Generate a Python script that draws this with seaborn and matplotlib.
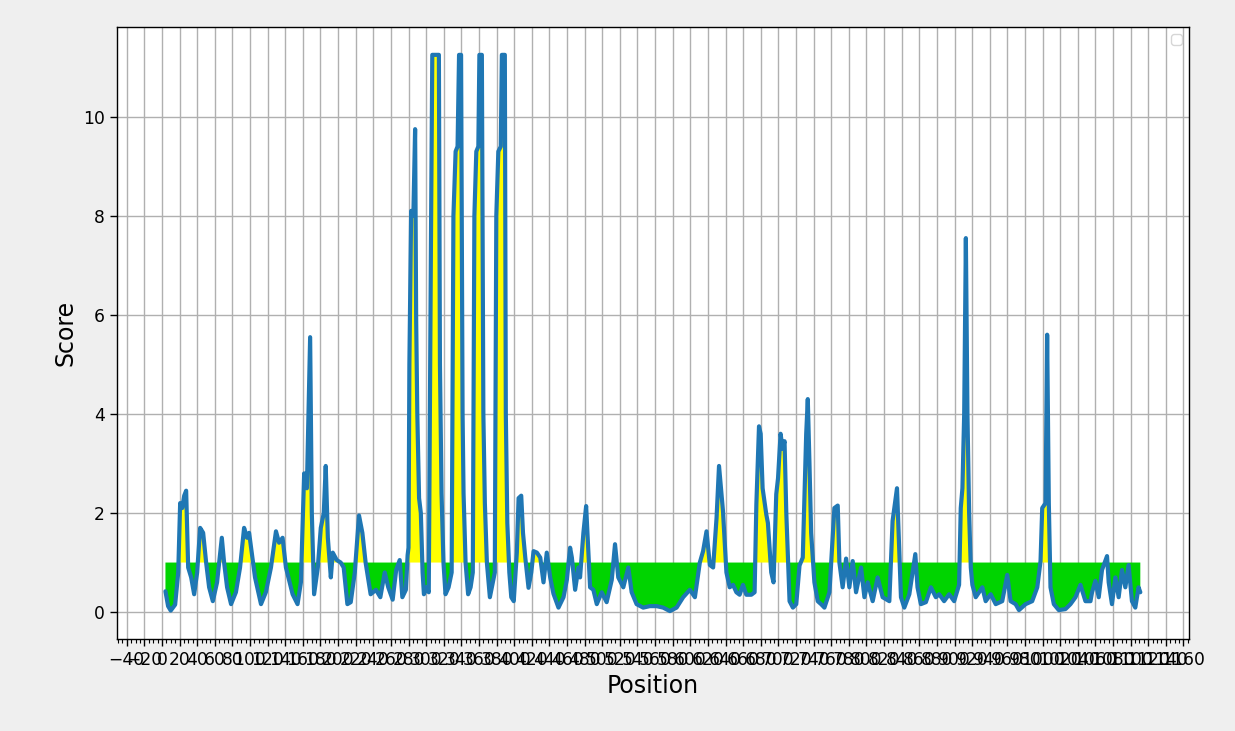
import matplotlib
matplotlib.use("Agg")
import matplotlib.pyplot as plt
from matplotlib.ticker import MultipleLocator
import seaborn as sns
import numpy as np
import pandas as pd

# ---- data ----
positions = [
    4, 7, 10, 15, 18.5, 20.7, 23, 25.3, 27.5, 29.8, 33.2, 36.6, 40, 43.4, 46.8, 50.2,
    53.6, 57.8, 62.6, 68, 70.6, 74, 78.5, 84, 88.7, 93.3, 96.7, 99, 102, 105.7, 112.5,
    118, 123.8, 129.5, 133, 137, 140.8, 148.4, 154, 157.8, 161.5, 164.6, 168.3, 170.2,
    172.8, 177, 180.4, 183.8, 186, 188.4, 191.8, 194, 198.5, 203, 206.4, 210.6, 214.4,
    219, 223.8, 227.6, 231.3, 237, 243, 248, 253, 257, 262, 266, 270, 273, 277, 279, 280,
    281, 283, 285.5, 287.5, 288.7, 290, 292, 294, 296, 297.5, 300.5,
    303, 305.5, 307, 310.5, 314.5, 315.7, 317.5, 319.7, 322, 325.5,
    329, 331, 333.5, 335.7, 337.4, 339.7, 341.4, 342.5, 344.8, 347.7, 350.5,
    353, 354.8, 357, 359.3, 360.5, 363.3, 365, 366.7, 369, 372.4, 374.6,
    378, 379.7, 382, 384.8, 386, 389.4, 390.5, 392.2, 394.5, 396.7, 399.5,
    403, 405, 408, 410, 412.6, 416.3, 419.4, 422, 425.8, 429.6, 433.3, 437, 440.9, 444.6,
    450.3, 456, 459.8, 463.5, 465.5, 469.2, 473, 474.8, 478.6, 481.7, 484.3, 486.2, 489.9,
    493.8, 499.4, 505, 510.8, 514.5, 518.2, 523.9, 529.6, 533.4, 539, 546.5, 554, 561.7,
    569.2, 576.8, 584.4, 591.9, 599.5, 605.2, 610.8, 614.5, 618.4, 622.2, 625.9, 629.8,
    632.6, 635.3, 637.1, 641, 644.7, 648.5, 652.3, 656, 659.8, 663.6, 669.3, 673, 675,
    678, 679.9, 682.1, 686.3, 688.1, 691.9, 694.5, 697.6, 699.6, 702.5, 704.8, 707, 709,
    712.7, 716.5, 720.3, 724, 727.7, 731.6, 733.4, 735.3, 737.2, 740.9, 744.7, 748.5,
    752.3, 758, 761.7, 763.6, 767.4, 769.3, 773, 776.9, 780.6, 784.4, 788.2, 793.9, 797.7,
    801.4, 807.1, 812.7, 818.4, 826, 829.7, 834.7, 837.3, 839.2, 843, 848.7, 855.5, 858,
    861.8, 867.5, 873.2, 878.8, 882.6, 888.2, 893.9, 899.6, 905.2, 907.1, 909, 911, 912.9,
    914.7, 916.6, 918.5, 920.3, 924.1, 931.6, 935.4, 941.1, 946.8, 954.2, 959.9, 963.7,
    969.4, 973.2, 980.7, 988.2, 994, 997.7, 999.6, 1003.4, 1005.2, 1007.1, 1009, 1012.8,
    1018.4, 1026, 1031.7, 1037.4, 1043, 1048.7, 1054.4, 1056.2, 1060, 1063.8, 1067.5,
    1073.2, 1075.1, 1078.8, 1082.7, 1086.4, 1090.2, 1094, 1097.7, 1101.5, 1105.3, 1109, 1111,
]
scores = [
    0.42, 0.12, 0.03, 0.15, 0.8, 2.2, 2.1, 2.35, 2.45, 0.9, 0.7, 0.36, 0.8, 1.7, 1.6, 1.0,
    0.5, 0.22, 0.6, 1.5, 1.0, 0.5, 0.16, 0.4, 0.9, 1.7, 1.5, 1.6, 1.2, 0.7, 0.16,
    0.4, 0.9, 1.63, 1.4, 1.5, 0.9, 0.36, 0.16, 0.6, 2.8, 2.5, 5.55, 2.0,
    0.36, 0.9, 1.7, 2.0, 2.95, 1.5, 0.7, 1.2, 1.05, 1.0, 0.9, 0.16, 0.2,
    0.8, 1.95, 1.6, 1.0, 0.36, 0.45, 0.3, 0.8, 0.5, 0.25, 0.85, 1.05, 0.3, 0.45, 1.15, 1.3,
    5.0, 8.1, 8.0, 9.75, 5.9, 4.0, 2.3, 2.0, 0.8, 0.36, 0.5,
    0.4, 7.5, 11.25, 11.25, 11.25, 5.0, 2.4, 1.0, 0.36, 0.5,
    0.8, 8.0, 9.3, 9.4, 11.25, 11.25, 4.0, 2.4, 1.0, 0.36, 0.5,
    0.8, 8.0, 9.3, 9.4, 11.25, 11.25, 4.0, 2.2, 1.0, 0.3, 0.5,
    0.8, 8.0, 9.3, 9.4, 11.25, 11.25, 4.0, 1.8, 0.8, 0.3, 0.22,
    1.2, 2.3, 2.35, 1.6, 1.1, 0.49, 0.8, 1.23, 1.2, 1.1, 0.6, 1.2, 0.7, 0.37,
    0.09, 0.3, 0.65, 1.3, 1.1, 0.45, 0.9, 0.7, 1.6, 2.14, 1.2, 0.5, 0.45,
    0.16, 0.4, 0.2, 0.65, 1.37, 0.7, 0.5, 0.9, 0.4, 0.16, 0.09, 0.12, 0.12,
    0.09, 0.02, 0.09, 0.3, 0.45, 0.3, 1.0, 1.23, 1.63, 0.95, 0.9, 1.9,
    2.95, 2.4, 2.04, 0.8, 0.5, 0.55, 0.4, 0.35, 0.55, 0.35, 0.35, 0.4, 2.17,
    3.75, 3.6, 2.5, 1.97, 1.8, 0.8, 0.6, 2.38, 2.7, 3.6, 3.3, 3.45, 2.0,
    0.22, 0.09, 0.16, 0.94, 1.1, 3.6, 4.3, 3.0, 1.6, 0.6, 0.22, 0.16,
    0.09, 0.4, 1.5, 2.1, 2.15, 1.0, 0.5, 1.08, 0.5, 1.03, 0.4, 0.9, 0.3,
    0.6, 0.22, 0.7, 0.3, 0.22, 1.84, 2.5, 1.2, 0.3, 0.09, 0.36, 1.17, 0.5,
    0.16, 0.2, 0.5, 0.3, 0.36, 0.22, 0.36, 0.22, 0.55, 2.1, 2.5, 4.0, 7.55,
    4.0, 2.0, 0.9, 0.55, 0.3, 0.5, 0.22, 0.36, 0.16, 0.22, 0.75, 0.22,
    0.16, 0.04, 0.16, 0.22, 0.5, 1.03, 2.1, 2.2, 5.6, 2.2, 0.5, 0.16,
    0.04, 0.06, 0.16, 0.3, 0.55, 0.22, 0.22, 0.4, 0.63, 0.3, 0.85,
    1.13, 0.6, 0.16, 0.7, 0.3, 0.85, 0.5, 0.95, 0.22, 0.09, 0.5, 0.4,
]
threshold = 1.0
x_label = "Position"
y_label = "Score"

df = pd.DataFrame({"Position": positions, "Score": scores})
x = df["Position"].to_numpy()
y = df["Score"].to_numpy()

sns.set_style("ticks")
plt.rcParams["font.family"] = ["DejaVu Sans"]
plt.rcParams["text.color"] = "black"
plt.rcParams["axes.labelcolor"] = "black"
plt.rcParams["xtick.color"] = "black"
plt.rcParams["ytick.color"] = "black"

fig = plt.figure(figsize=(12.35, 7.31), dpi=100, facecolor="#efefef")
ax = fig.add_axes([0.0945, 0.126, 0.8683, 0.837])
ax.set_facecolor("white")

ax.fill_between(x, y, threshold, where=(y < threshold), interpolate=True,
                color="#00d400", linewidth=0, zorder=1)
ax.fill_between(x, y, threshold, where=(y > threshold), interpolate=True,
                color="#ffff00", linewidth=0, zorder=1)
sns.lineplot(data=df, x="Position", y="Score", ax=ax, color="#1f77b4",
             linewidth=3.0, zorder=3)

ax.margins(x=0.05, y=0.05)
ax.xaxis.set_major_locator(MultipleLocator(20))
ax.xaxis.set_minor_locator(MultipleLocator(5))
ax.yaxis.set_major_locator(MultipleLocator(2))
ax.set_axisbelow(True)
ax.grid(True, which="major", color="#b0b0b0", linewidth=1.0)
ax.tick_params(axis="both", which="major", labelsize=12.3, direction="out",
               length=5, width=1, color="black", labelcolor="black")
ax.tick_params(axis="x", which="minor", length=3, width=0.8, color="black")
for s in ax.spines.values():
    s.set_color("black")
    s.set_linewidth(1.0)

ax.set_xlabel(x_label, fontsize=17, color="black")
ax.set_ylabel(y_label, fontsize=17, color="black")
ax.legend(handles=[], loc="upper right")

fig.savefig("out.png", dpi=100, facecolor=fig.get_facecolor())
